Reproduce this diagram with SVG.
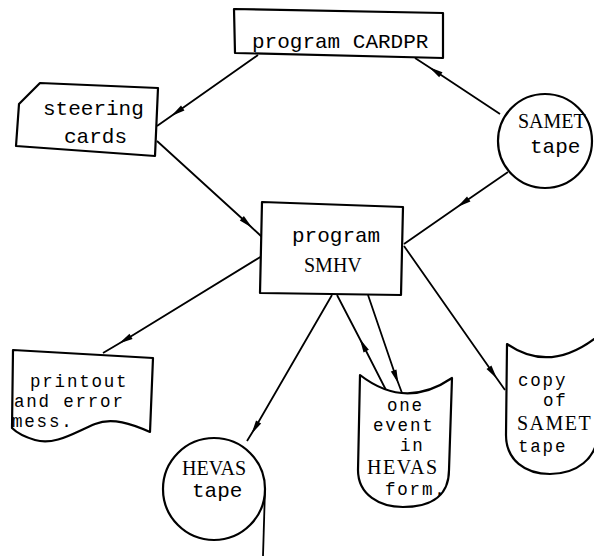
<svg xmlns="http://www.w3.org/2000/svg" width="594" height="556" viewBox="0 0 594 556">
<defs>
<style>
.shape{fill:#fff;stroke:#000;stroke-width:2.2;stroke-linejoin:round}
.conn{fill:none;stroke:#000;stroke-width:1.8;marker-mid:url(#arr)}
.mono{font-family:"Liberation Mono","DejaVu Sans Mono",monospace;font-size:21px;fill:#000}
.small{font-size:17.5px;letter-spacing:1.8px}
.serif{font-family:"Liberation Serif","DejaVu Serif",serif;font-size:20px;fill:#000}
</style>
<marker id="arr" markerUnits="userSpaceOnUse" viewBox="-8 -4 16 8" refX="0" refY="0" markerWidth="16" markerHeight="8" orient="auto" overflow="visible">
<path d="M-7,-3 L7,0 L-7,3 Z" fill="#000"/>
</marker>
</defs>
<rect width="594" height="556" fill="#fff"/>
<g id="connectors">
<path class="conn" d="M258,55 L177,112 L157,126"/>
<path class="conn" d="M157,141 L247,223 L262,237"/>
<path class="conn" d="M500,114 L435,71 L415,58"/>
<path class="conn" d="M508,172 L463,203 L404,244"/>
<path class="conn" d="M262,256 L125,340 L103,353"/>
<path class="conn" d="M332,295 L255,428 L247,441"/>
<path class="conn" d="M387,392 L363,345 L337,295"/>
<path class="conn" d="M368,295 L396,377 L402,393"/>
<path class="conn" d="M404,246 L493,373 L505,390"/>
<path d="M265,489 L263,556" fill="none" stroke="#000" stroke-width="1.8"/>
</g>
<g id="cardpr">
<polygon class="shape" points="234,9 443,13 443,58 235,53"/>
<text class="mono" x="252" y="48">program CARDPR</text>
</g>
<g id="steering">
<polygon class="shape" points="40,83 158,88 155,156 16,146 19,104"/>
<text class="mono" x="43" y="115">steering</text>
<text class="mono" x="64" y="143">cards</text>
</g>
<g id="samet">
<circle class="shape" cx="545" cy="141" r="47"/>
<text class="serif" x="518" y="128">SAMET</text>
<text class="mono" x="530" y="153" font-size="20">tape</text>
</g>
<g id="smhv">
<polygon class="shape" points="262,202 403,207 401,295 260,293"/>
<text class="mono" x="292" y="242">program</text>
<text class="serif" x="304" y="272" font-size="18">SMHV</text>
</g>
<g id="printout">
<path class="shape" d="M13,350 L153,358 L150,432 C132,424 112,417 95,424 C75,432 55,446 35,440 C25,437 16,432 12,428 Z"/>
<text class="mono small" x="30" y="387">printout</text>
<text class="mono small" x="14" y="407">and error</text>
<text class="mono small" x="12" y="427">mess.</text>
</g>
<g id="hevas">
<circle class="shape" cx="214" cy="489" r="51"/>
<text class="serif" x="182" y="475">HEVAS</text>
<text class="mono" x="192" y="497" font-size="20">tape</text>
</g>
<g id="event">
<path class="shape" d="M360,375 Q405,410 452,378 L449,470 C449,500 425,507 403,507 C380,507 358,495 358,470 Z"/>
<text class="mono small" x="387" y="411">one</text>
<text class="mono small" x="373" y="431">event</text>
<text class="mono small" x="400" y="451">in</text>
<text class="serif" x="367" y="474" font-size="18" letter-spacing="1.5">HEVAS</text>
<text class="mono small" x="385" y="495">form.</text>
</g>
<g id="copy">
<path class="shape" d="M507,344 Q550,374 598,336 L598,430 C598,460 575,474 550,474 C525,474 506,460 506,435 Z"/>
<text class="mono small" x="518" y="386">copy</text>
<text class="mono small" x="543" y="406">of</text>
<text class="serif" x="517" y="430" font-size="18" letter-spacing="1.5">SAMET</text>
<text class="mono small" x="518" y="452">tape</text>
</g>
</svg>
